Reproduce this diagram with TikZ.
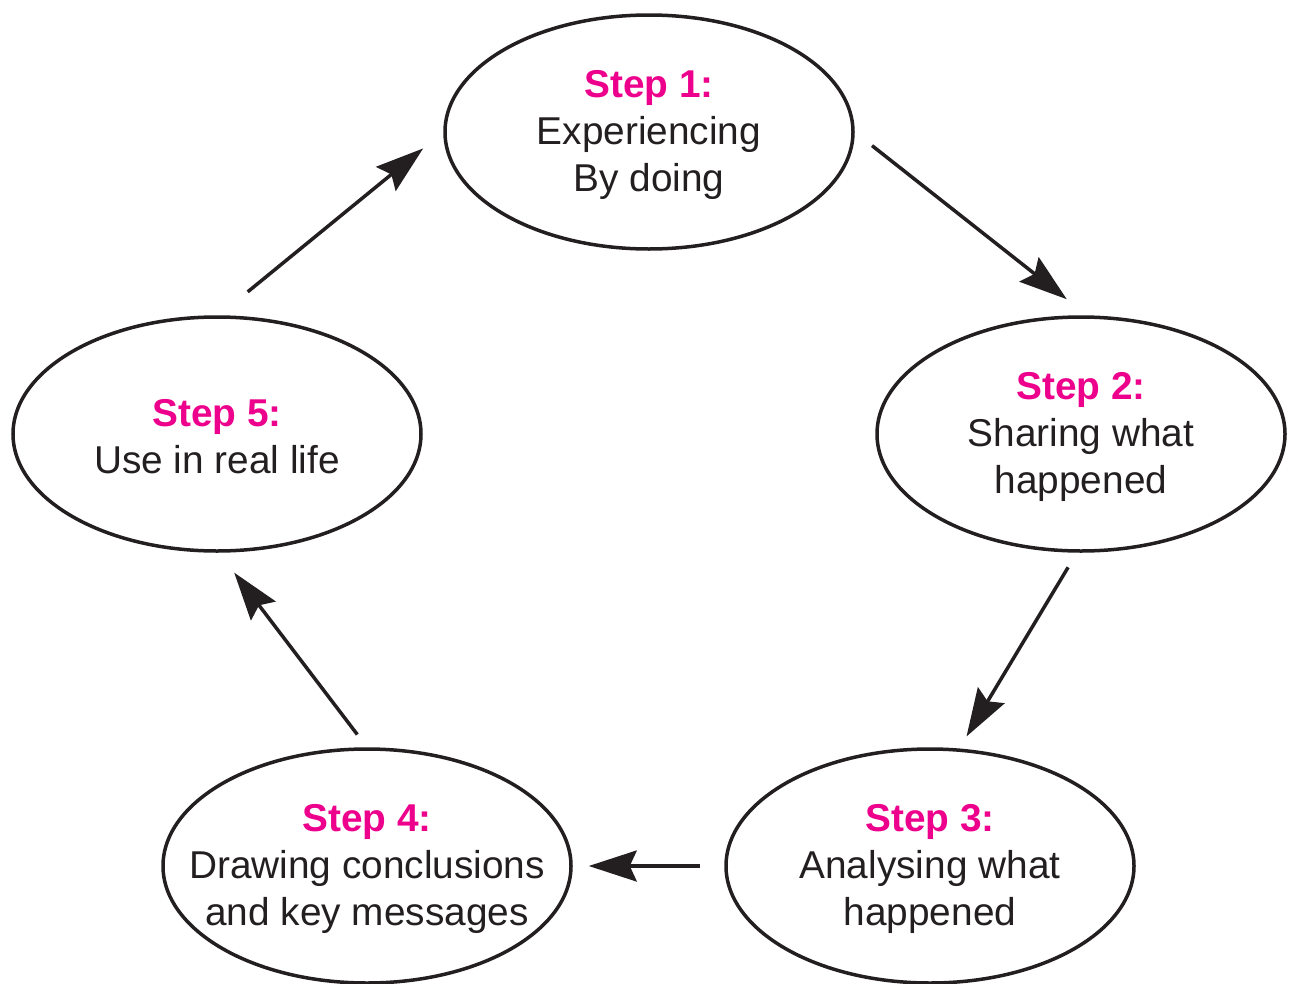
\documentclass[tikz,border=0pt]{standalone}
\usepackage{fontspec}
\setmainfont{Liberation Sans}
\usetikzlibrary{arrows.meta,shapes.geometric}
\definecolor{stepmag}{RGB}{236,0,140}
\definecolor{ink}{RGB}{35,31,32}

\begin{document}
\begin{tikzpicture}[x=1pt,y=-1pt,
stage/.style={draw=ink,line width=3.5pt,ellipse,minimum width=408pt,minimum height=234pt,inner sep=0pt},
lbl/.style={align=center,text=ink,yshift=-3pt,font=\fontsize{38.8}{47}\selectfont},
flow/.style={draw=ink,line width=3.5pt,-{Stealth[length=48pt,width=31pt,inset=7pt]}}]
\useasboundingbox(0,0)rectangle(1291,983);
\node[stage](e1)at(649,132){};\node[lbl](t1)at(e1){\textcolor{stepmag}{\bfseries Step 1:}\\Experiencing\\By doing};
\node[stage](e2)at(1081,434){};\node[lbl](t2)at(e2){\textcolor{stepmag}{\bfseries Step 2:}\\Sharing what\\happened};
\node[stage](e3)at(930,866){};\node[lbl](t3)at(e3){\textcolor{stepmag}{\bfseries Step 3:}\\Analysing what\\happened};
\node[stage](e4)at(367,866){};\node[lbl](t4)at(e4){\textcolor{stepmag}{\bfseries Step 4:}\\Drawing conclusions\\and key messages};
\node[stage](e5)at(217,434){};\node[lbl](t5)at(e5){\textcolor{stepmag}{\bfseries Step 5:}\\Use in real life};
\draw[flow,shorten <=22pt,shorten >=26pt](e1.0)--(e2.87);
\draw[flow,shorten <=17pt,shorten >=14pt](e2.268)--(e3.76);
\draw[flow,shorten <=24pt,shorten >=16pt](e3.180)--(e4.0);
\draw[flow,shorten <=16pt,shorten >=25pt](e4.90)--(e5.271);
\draw[flow,shorten <=37pt,shorten >=26pt](e5.89)--(e1.180);
\end{tikzpicture}
\end{document}
